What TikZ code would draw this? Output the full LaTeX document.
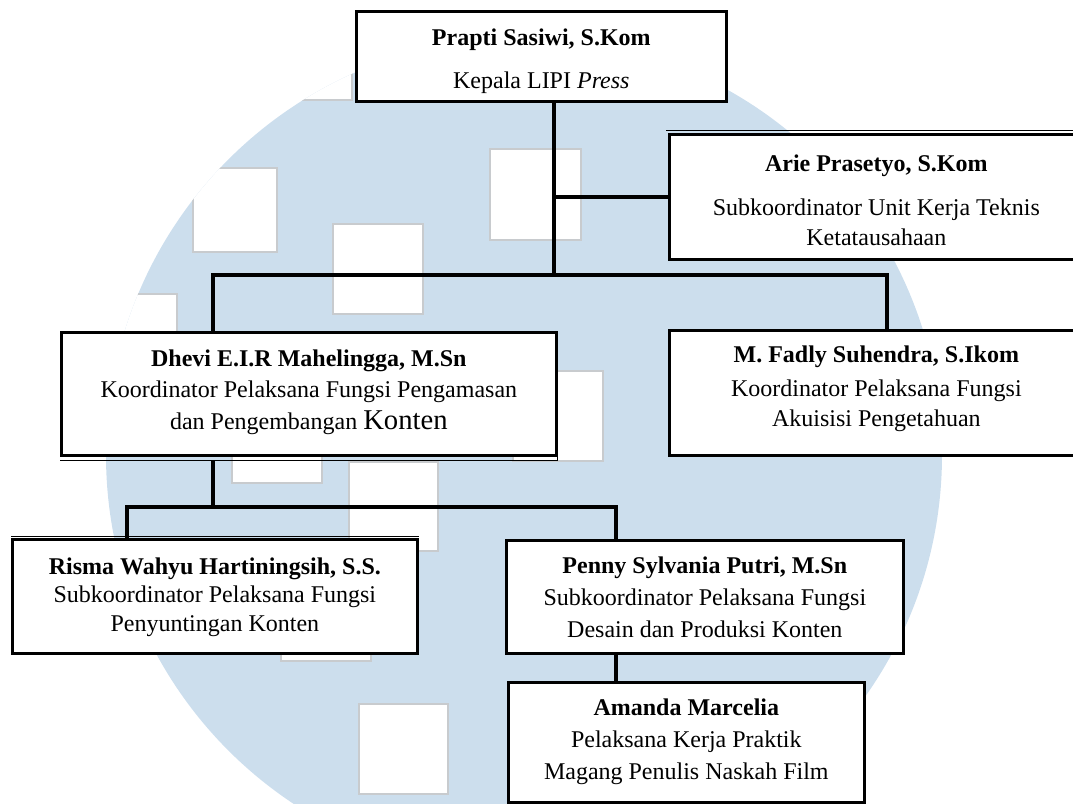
\documentclass[tikz,border=0pt]{standalone}
\usepackage{fontspec}
\setmainfont{Liberation Serif}
\definecolor{logoblue}{RGB}{204,222,237}
\definecolor{sqedge}{RGB}{200,203,206}
\begin{document}
\begin{tikzpicture}[x=0.75pt,y=-0.75pt,
  box/.style={draw=black,line width=2pt,fill=white,inner sep=0pt,anchor=north west},
  txt/.style={inner sep=0pt,align=center,font=\fontsize{18}{21}\selectfont},
  conn/.style={draw=black,line width=2.5pt},
  sq/.style={fill=white,draw=sqedge,line width=0.9pt}]
\useasboundingbox (0,0) rectangle (1073,803);
% watermark
\fill[logoblue] (524,455) circle[radius=418];
\begin{scope}
  \clip (524,455) circle[radius=418];
  \draw[sq] (262,10) rectangle (352,100);
  \draw[sq] (193,168) rectangle (277,252);
  \draw[sq] (88,294) rectangle (177,383);
  \draw[sq] (333,224) rectangle (423,314);
  \draw[sq] (490,149) rectangle (581,240);
  \draw[sq] (513,371) rectangle (603,461);
  \draw[sq] (349,462) rectangle (438,551);
  \draw[sq] (232,393) rectangle (322,483);
  \draw[sq] (281,571) rectangle (371,661);
  \draw[sq] (359,704) rectangle (448,794);
\end{scope}
% junction points
\coordinate (b1) at (554,275);
\coordinate (b1L) at (213,275);
\coordinate (b1R) at (887,275);
\coordinate (b2) at (213,507);
\coordinate (b2L) at (127,507);
\coordinate (b2R) at (616,507);
% boxes
\node[box,minimum width=370*0.75pt,minimum height=90*0.75pt] (top) at (355,10) {};
\node[box,minimum width=414*0.75pt,minimum height=125*0.75pt] (arie) at (668,133) {};
\node[box,minimum width=495*0.75pt,minimum height=123*0.75pt] (dhevi) at (60,331) {};
\node[box,minimum width=414*0.75pt,minimum height=125*0.75pt] (fadly) at (668,329) {};
\node[box,minimum width=405*0.75pt,minimum height=114*0.75pt] (risma) at (11,538) {};
\node[box,minimum width=397*0.75pt,minimum height=113*0.75pt] (penny) at (505,539) {};
\node[box,minimum width=356*0.75pt,minimum height=120*0.75pt] (amanda) at (507,681) {};
% texts
\node[txt] (topt) at ([yshift=-3.75pt]top.center)
  {\textbf{Prapti Sasiwi, S.Kom}\\[11.25pt]Kepala LIPI \textit{Press}};
\node[txt] (ariet) at ([yshift=-2.25pt]arie.center)
  {\textbf{Arie Prasetyo, S.Kom}\\[12pt]Subkoordinator Unit Kerja Teknis\\[1.5pt]Ketatausahaan};
\node[txt] (dhevit) at ([yshift=1.5pt]dhevi.center)
  {\textbf{Dhevi E.I.R Mahelingga, M.Sn}\\[2.25pt]Koordinator Pelaksana Fungsi Pengamasan\\[3pt]dan Pengembangan {\fontsize{21.5}{21}\selectfont Konten}};
\node[txt] (fadlyt) at ([yshift=3pt]fadly.center)
  {\textbf{M. Fadly Suhendra, S.Ikom}\\[5pt]Koordinator Pelaksana Fungsi\\[1.5pt]Akuisisi Pengetahuan};
\node[txt] (rismat) at ([yshift=-0.75pt]risma.center)
  {\textbf{Risma Wahyu Hartiningsih, S.S.}\\[0pt]Subkoordinator Pelaksana Fungsi\\[0.75pt]Penyuntingan Konten};
\node[txt] (pennyt) at (penny.center)
  {\textbf{Penny Sylvania Putri, M.Sn}\\[3pt]Subkoordinator Pelaksana Fungsi\\[3pt]Desain dan Produksi Konten};
\node[txt] (amandat) at ([yshift=0.75pt]amanda.center)
  {\textbf{Amanda Marcelia}\\[3pt]Pelaksana Kerja Praktik\\[3pt]Magang Penulis Naskah Film};
% extra border strokes
\draw[line width=1pt] ([xshift=-1.5pt,yshift=1.8pt]arie.north east) -- ([xshift=-1.5pt,yshift=1.8pt]arie.north west);
\draw[line width=1.2pt] ([yshift=-3pt]dhevi.south west) -- ([yshift=-3pt]dhevi.south east) -- (dhevi.south east);
\draw[line width=1.2pt] ([yshift=1.2pt]risma.north west) -- ([yshift=1.2pt]risma.north east);
% connectors
\draw[conn] (top.south -| b1) -- (b1);
\draw[conn] (b1 |- arie.west) -- (arie.west);
\draw[conn] (dhevi.north -| b1L) -- (b1L) -- (b1R) -- (fadly.north -| b1R);
\draw[conn] ([yshift=-3pt]dhevi.south -| b2) -- (b2);
\draw[conn] (risma.north -| b2L) -- (b2L) -- (b2R) -- (penny.north -| b2R);
\draw[conn] (penny.south -| b2R) -- (amanda.north -| b2R);
\end{tikzpicture}
\end{document}
